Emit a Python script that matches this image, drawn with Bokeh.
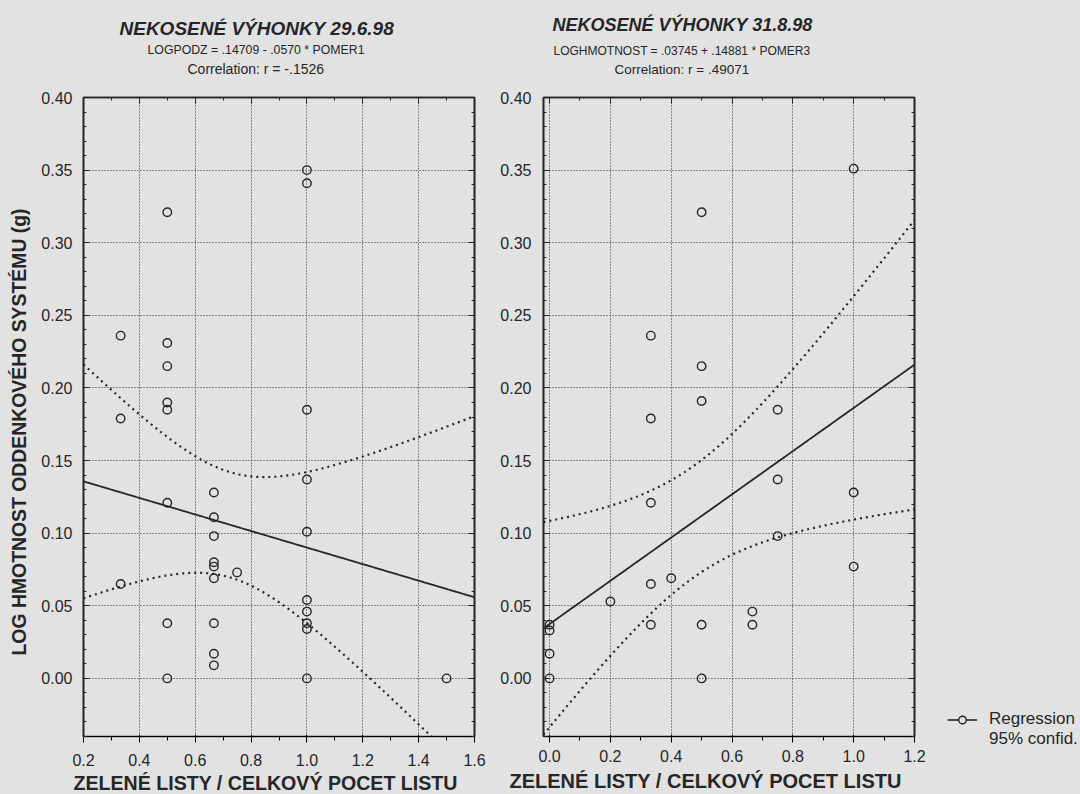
import numpy as np
from bokeh.plotting import figure
from bokeh.layouts import row, column
from bokeh.models import (FixedTicker, LinearAxis, Legend, LegendItem, Title,
                          Range1d, NumeralTickFormatter)
from bokeh.embed import file_html
from bokeh.resources import INLINE

# ---------------- data: NEKOSENÉ VÝHONKY 29.6.98 ----------------
pomer1 = [1.0, 1.0, 0.5, 0.333, 0.5, 0.5, 0.5, 0.5, 0.333, 1.0, 1.0, 0.667,
          0.5, 0.667, 1.0, 0.667, 0.667, 0.667, 0.75, 0.667, 0.333, 1.0, 1.0,
          1.0, 1.0, 0.5, 0.667, 0.667, 0.667, 0.5, 1.0, 1.5]
logpodz = [0.350, 0.341, 0.321, 0.236, 0.231, 0.215, 0.190, 0.185, 0.179,
           0.185, 0.137, 0.128, 0.121, 0.111, 0.101, 0.098, 0.080, 0.077,
           0.073, 0.069, 0.065, 0.054, 0.046, 0.038, 0.034, 0.038, 0.038,
           0.017, 0.009, 0.0, 0.0, 0.0]
coef1 = (0.14709, -0.0570)

# ---------------- data: NEKOSENÉ VÝHONKY 31.8.98 ----------------
pomer3 = [1.0, 0.5, 0.333, 0.5, 0.5, 0.333, 0.75, 0.75, 1.0, 0.333, 0.75,
          1.0, 0.4, 0.333, 0.2, 0.667, 0.667, 0.333, 0.5, 0.0, 0.0, 0.0, 0.0,
          0.5]
loghmotnost = [0.351, 0.321, 0.236, 0.215, 0.191, 0.179, 0.185, 0.137, 0.128,
               0.121, 0.098, 0.077, 0.069, 0.065, 0.053, 0.046, 0.037, 0.037,
               0.037, 0.037, 0.033, 0.017, 0.0, 0.0]
coef3 = (0.03745, 0.14881)

y_ticks = [0.00, 0.05, 0.10, 0.15, 0.20, 0.25, 0.30, 0.35, 0.40]
x_ticks_left = [0.2, 0.4, 0.6, 0.8, 1.0, 1.2, 1.4, 1.6]
x_ticks_right = [0.0, 0.2, 0.4, 0.6, 0.8, 1.0, 1.2]

FONT = "Liberation Sans"
INK = "#262626"
BG = "#e2e2e2"
H = 794
TOP = 97
BOTTOM = 736


def t975(df):
    z = 1.959964
    return (z + (z**3 + z) / (4 * df)
            + (5 * z**5 + 16 * z**3 + 3 * z) / (96 * df**2)
            + (3 * z**7 + 19 * z**5 + 17 * z**3 - 15 * z) / (384 * df**3))


def bands(xv, yv, coef, xr):
    x = np.array(xv, float)
    y = np.array(yv, float)
    a, b = coef
    n = len(x)
    s = np.sqrt(np.sum((y - (a + b * x)) ** 2) / (n - 2))
    xbar = x.mean()
    sxx = np.sum((x - xbar) ** 2)
    xs = np.linspace(xr[0], xr[1], 300)
    hw = t975(n - 2) * s * np.sqrt(1.0 / n + (xs - xbar) ** 2 / sxx)
    yc = a + b * xs
    return xs, yc, yc - hw, yc + hw


def make_fig(width, xr, yr, mb_lr, xticks, x_minor, xstd, ystd):
    p = figure(width=width, height=H, title=None,
               x_range=Range1d(*xr), y_range=Range1d(*yr),
               output_backend="svg", toolbar_location=None,
               min_border_left=mb_lr[0], min_border_right=mb_lr[1],
               min_border_top=TOP, min_border_bottom=H - BOTTOM)
    p.background_fill_color = BG
    p.border_fill_color = BG
    p.outline_line_color = INK
    p.outline_line_width = 1.6
    y_minor = [round(v * 0.01, 2) for v in range(-4, 41)]
    xt = FixedTicker(ticks=xticks, minor_ticks=x_minor)
    yt = FixedTicker(ticks=y_ticks, minor_ticks=y_minor)
    p.xaxis.ticker = xt
    p.yaxis.ticker = yt
    p.xaxis.formatter = NumeralTickFormatter(format="0.0")
    p.yaxis.formatter = NumeralTickFormatter(format="0.00")
    p.xaxis.major_label_standoff = xstd
    p.yaxis.major_label_standoff = ystd
    for ax in (p.xaxis[0], p.yaxis[0]):
        ax.major_label_text_font = FONT
        ax.major_label_text_font_size = "16px"
        ax.major_label_text_color = INK
    extra = [LinearAxis(ticker=xt), LinearAxis(ticker=yt)]
    p.add_layout(extra[0], "above")
    p.add_layout(extra[1], "right")
    for ax in extra:
        ax.major_label_text_font_size = "1px"
        ax.major_label_text_color = None
        ax.major_label_standoff = 0
    for ax in [p.xaxis[0], p.yaxis[0]] + extra:
        ax.axis_line_color = INK
        ax.axis_line_width = 1.6
        ax.major_tick_in = 6
        ax.major_tick_out = 0
        ax.minor_tick_in = 3
        ax.minor_tick_out = 0
        ax.major_tick_line_color = INK
        ax.minor_tick_line_color = INK
    p.xgrid.ticker = xt
    p.ygrid.ticker = yt
    for g in (p.xgrid[0], p.ygrid[0]):
        g.grid_line_color = "#2a2a2a"
        g.grid_line_dash = "1 2"
        g.grid_line_width = 1
    # invisible spacer between the frame and the stacked titles
    p.add_layout(Title(text=" ", text_font_size="1px", standoff=17), "above")
    return p


def title(p, side, text, size, style, offset, standoff, valign="bottom"):
    p.add_layout(Title(text=text, align="left", offset=offset,
                       standoff=standoff, vertical_align=valign,
                       text_font=FONT, text_font_size=size,
                       text_font_style=style, text_color=INK), side)


yr = (-0.04, 0.40)

# ---------------- left figure ----------------
xr1 = (0.2, 1.6)
p1 = make_fig(490, xr1, yr, (82, 16), x_ticks_left,
              [round(0.2 + 0.1 * i, 1) for i in range(15)], 11, 11)
xs, yc, lo, hi = bands(pomer1, logpodz, coef1, xr1)
p1.line(xs, yc, line_color=INK, line_width=1.8)
p1.line(xs, lo, line_color=INK, line_width=2.2, line_dash="2 4")
p1.line(xs, hi, line_color=INK, line_width=2.2, line_dash="2 4")
p1.scatter(pomer1, logpodz, marker="circle", size=8.5, fill_color=None,
           line_color=INK, line_width=1.4)
title(p1, "above", "Correlation: r = -.1526", "14px", "normal", 104, 1)
title(p1, "above", "LOGPODZ = .14709 - .0570 * POMER1", "12.3px", "normal", 64, 4)
title(p1, "above", "NEKOSENÉ VÝHONKY 29.6.98", "19px", "bold italic", 36, 0)
title(p1, "below", "ZELENÉ LISTY / CELKOVÝ POCET LISTU", "19.6px", "bold", -10, 2)
title(p1, "left", "LOG HMOTNOST ODDENKOVÉHO SYSTÉMU (g)", "19.4px", "bold",
      81, 14, "top")

# ---------------- right figure ----------------
xr3 = (-0.02, 1.2)
p2 = make_fig(440, xr3, yr, (53, 16), x_ticks_right,
              [round(0.1 * i, 1) for i in range(13)], 7, 12)
xs, yc, lo, hi = bands(pomer3, loghmotnost, coef3, xr3)
p2.line(xs, yc, line_color=INK, line_width=1.8)
p2.line(xs, lo, line_color=INK, line_width=2.2, line_dash="2 4")
p2.line(xs, hi, line_color=INK, line_width=2.2, line_dash="2 4")
p2.scatter(pomer3, loghmotnost, marker="circle", size=8.5,
           fill_color=None, line_color=INK, line_width=1.4)
title(p2, "above", "Correlation: r = .49071", "13.5px", "normal", 71, 1.4)
title(p2, "above", "LOGHMOTNOST = .03745 + .14881 * POMER3", "12px", "normal", 10, 3)
title(p2, "above", "NEKOSENÉ VÝHONKY 31.8.98", "18px", "bold italic", 9, 12)
title(p2, "below", "ZELENÉ LISTY / CELKOVÝ POCET LISTU", "20px", "bold", -34, 5.8)

# ---------------- legend panel ----------------
p3 = figure(width=150, height=H, x_range=Range1d(0, 1), y_range=Range1d(0, 1),
            output_backend="svg", toolbar_location=None,
            x_axis_location=None, y_axis_location=None,
            min_border_left=0, min_border_right=0,
            min_border_top=0, min_border_bottom=0)
p3.background_fill_color = BG
p3.border_fill_color = BG
p3.outline_line_color = None
p3.xgrid.visible = False
p3.ygrid.visible = False
leg_line = p3.line([5, 6], [5, 6], line_color=INK, line_width=1.6)
leg_pts = p3.scatter([5], [5], marker="circle", size=8.5, fill_color=BG,
                     line_color=INK, line_width=1.4)
leg_ci = p3.line([5, 6], [5, 6], line_alpha=0)
legend = Legend(items=[LegendItem(label="Regression", renderers=[leg_line, leg_pts]),
                       LegendItem(label="95% confid.", renderers=[leg_ci])],
                location=(17, 45), background_fill_alpha=0,
                border_line_color=None, label_text_font=FONT,
                label_text_font_size="17px", label_text_color=INK,
                glyph_width=30, glyph_height=19, label_height=19,
                label_standoff=12, spacing=0, padding=0, margin=0)
p3.add_layout(legend, "center")

layout = row(p1, p2, column(p3, styles={"background-color": BG}),
             styles={"background-color": BG})
open("out.html", "w").write(file_html(layout, INLINE))
